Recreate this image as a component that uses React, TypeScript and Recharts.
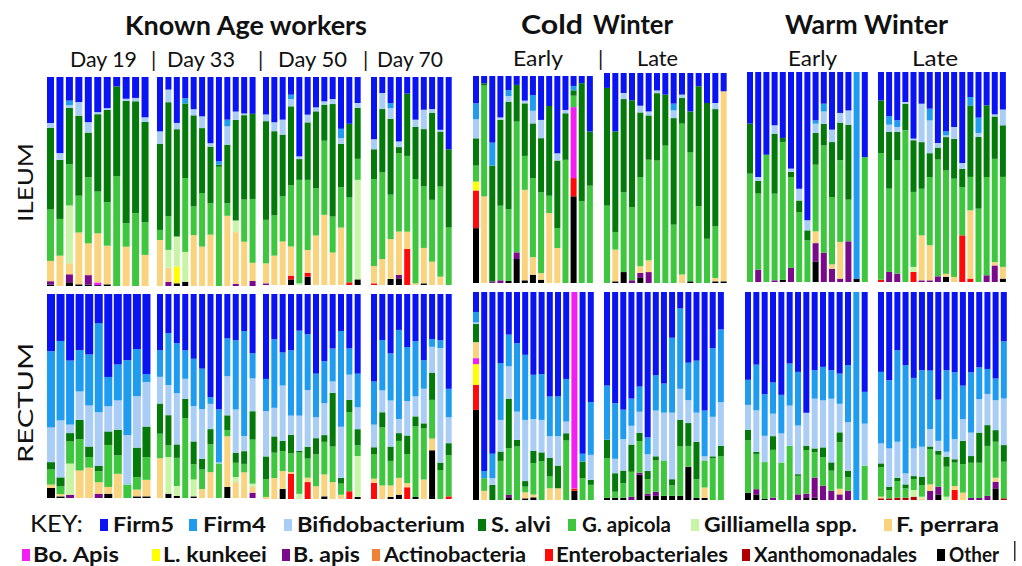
import { BarChart, Bar, XAxis, YAxis } from "recharts";

// taxa, top of the stack first (legend order)
const TAXA = [
  { key: "f5", name: "Firm5", color: "#0a14f2" },
  { key: "f4", name: "Firm4", color: "#1f9cf0" },
  { key: "bi", name: "Bifidobacterium", color: "#a9cdf5" },
  { key: "sa", name: "S. alvi", color: "#037a0a" },
  { key: "ga", name: "G. apicola", color: "#3fc63f" },
  { key: "gs", name: "Gilliamella spp.", color: "#c8f5a5" },
  { key: "fp", name: "F. perrara", color: "#f9d37e" },
  { key: "bo", name: "Bo. Apis", color: "#f21ef2" },
  { key: "lk", name: "L. kunkeei", color: "#ffff00" },
  { key: "ba", name: "B. apis", color: "#7a0a8a" },
  { key: "ac", name: "Actinobacteria", color: "#ee8236" },
  { key: "en", name: "Enterobacteriales", color: "#ff0a0a" },
  { key: "xa", name: "Xanthomonadales", color: "#b00000" },
  { key: "ot", name: "Other", color: "#000000" },
];

type Row = Partial<Record<string, number>>;

// ---- ILEUM (% of reads per bee) ----
const ileumDay19: Row[] = [
  { f5: 22, bi: 2.4, sa: 39, ga: 24.6, fp: 9.7, ba: 1.6, ot: 0.7 },
  { f5: 36.4, bi: 3.2, sa: 28.3, ga: 17.6, fp: 14.5 },
  { f5: 11.3, f4: 2.2, bi: 1.3, sa: 26.8, ga: 19.8, gs: 27.6, fp: 5.3, ba: 3.8, ot: 1.8 },
  { f5: 12, bi: 6.5, sa: 38.3, ga: 17.6, fp: 24.8, ot: 0.8 },
  { f5: 21.6, bi: 5, sa: 21.4, ga: 31.6, fp: 15.2, ba: 4.5, ot: 0.7 },
  { f5: 16.8, bi: 1, sa: 37, ga: 20, fp: 23.5, bo: 1.3, ot: 0.4 },
  { f5: 14.9, bi: 0.8, sa: 44.2, ga: 20.8, fp: 18.5, ot: 0.8 },
  { f5: 4.5, sa: 43, ga: 52.4 },
  { f5: 10.4, bi: 1, sa: 58.6, ga: 11.2, fp: 18.8 },
  { f5: 10, bi: 1.6, sa: 53.5, ga: 34.8 },
  { f5: 19.3, bi: 2.2, sa: 48, ga: 15.7, fp: 14.9 },
];
const ileumDay33: Row[] = [
  { f5: 26, bi: 5.9, sa: 41.2, ga: 4.8, fp: 22 },
  { f5: 6, bi: 6, sa: 54.3, ga: 16, gs: 8.5, fp: 6.7, ba: 2 },
  { f5: 22, bi: 3, sa: 51.4, gs: 14.4, lk: 8, ot: 1.3 },
  { f5: 10, f4: 2.4, sa: 35, ga: 34.7, gs: 14, ot: 2 },
  { f5: 15.7, bi: 3, sa: 44.4, ga: 14, fp: 24.8 },
  { f5: 18.8, bi: 5.6, sa: 31, ga: 25.6, fp: 18.8 },
  { f5: 31.6, bi: 1.6, sa: 27, ga: 15, fp: 24.5 },
  { f5: 40.3, f4: 1.6, sa: 1, ga: 57 },
  { f5: 20.4, f4: 3.2, bi: 8.8, sa: 28, ga: 6, fp: 33.6 },
  { f5: 16.5, bi: 4, sa: 48, gs: 5.6, fp: 24.7, ba: 1 },
  { f5: 17.3, bi: 0.8, sa: 40, ga: 20, fp: 21 },
  { f5: 17.3, sa: 40, ga: 30, fp: 8.5, ba: 2.4 },
];
const ileumDay50: Row[] = [
  { f5: 18, bi: 3.2, sa: 47.4, ga: 20.9, fp: 9.6, ba: 0.8 },
  { f5: 21.7, bi: 4.3, sa: 40.4, ga: 19.3, fp: 14.1 },
  { f5: 20.5, bi: 7.2, sa: 29.7, ga: 21.7, fp: 20.9 },
  { f5: 8.5, f4: 2.1, bi: 3.5, sa: 38, ga: 29.4, fp: 14, en: 1.8, ot: 2.7 },
  { f5: 38.2, bi: 1.3, sa: 10, ga: 49.8, gs: 0.8 },
  { f5: 18.1, bi: 3.7, sa: 27.6, ga: 33.7, fp: 10.9, en: 1.9, ot: 4 },
  { f5: 14.6, bi: 1.9, sa: 36.9, ga: 22.8, fp: 23.8 },
  { f5: 11.7, bi: 1.6, sa: 17.3, ga: 35.6, fp: 33.7 },
  { f5: 10.6, bi: 2.4, sa: 54.1, ga: 17.3, fp: 15.6 },
  { f5: 24.9, f4: 4.5, bi: 2.7, sa: 20.9, ga: 19.4, fp: 27.6 },
  { f5: 22.5, sa: 35.5, ga: 40.8, en: 1.3 },
  { f5: 12.5, bi: 2.4, sa: 24.4, ga: 10.1, gs: 47.8, ot: 2.7 },
];
const ileumDay70: Row[] = [
  { f5: 29.9, bi: 4.8, sa: 14.4, ga: 41.7, fp: 8.3, en: 0.8 },
  { f5: 7.7, bi: 7.7, sa: 30.5, ga: 41.6, fp: 12.5 },
  { f5: 12.5, f4: 2.4, bi: 5.1, sa: 36.4, ga: 21.3, fp: 19.1, ot: 2.9 },
  { f5: 31, bi: 2.7, sa: 2.9, ga: 37.7, fp: 20.9, ba: 1.6, ot: 3.2 },
  { f5: 8, sa: 29.9, ga: 36.4, fp: 8.3, en: 17.3 },
  { f5: 20.5, bi: 3.5, sa: 25, ga: 50.1, fp: 0.8 },
  { f5: 15.7, bi: 9.3, sa: 27.3, ga: 29.7, fp: 17, ot: 0.8 },
  { f5: 15.4, bi: 1.9, sa: 41.7, ga: 29.7, fp: 11.2 },
  { f5: 25.4, bi: 0.8, sa: 26.5, ga: 43.3, fp: 4 },
  { f5: 34.7, sa: 37.6, ga: 27.6 },
];
const ileumColdEarly: Row[] = [
  { f5: 13.2, f4: 7.7, bi: 9.2, sa: 13.2, ga: 7.7, lk: 4.3, en: 18.2, ot: 26.5 },
  { f5: 3.5, sa: 1.1, ga: 53.5, fp: 41.8 },
  { f5: 32.2, f4: 11.1, sa: 55.9, ba: 0.5, ot: 0.3 },
  { f5: 20, bi: 1.1, sa: 41.5, ga: 36, ba: 1.3 },
  { f5: 6.8, f4: 2.9, bi: 2.7, sa: 51.9, ga: 34.7, ot: 1 },
  { f5: 4.3, sa: 17.7, ga: 63.2, ba: 3.2, ot: 11.6 },
  { f5: 11.9, bi: 1.3, sa: 25.4, ga: 16.4, fp: 43.7, ot: 1.3 },
  { f5: 9.2, f4: 7.6, bi: 6.1, sa: 26.5, ga: 38.1, fp: 8.5, ot: 4 },
  { f5: 21.2, bi: 8.8, sa: 26.2, ga: 38.9, fp: 3.2, ot: 1.6 },
  { f5: 14.5, sa: 43.4, ga: 8.4, fp: 33.8 },
  { f5: 37.3, bi: 3.5, sa: 32.6, ga: 9.6, fp: 16.9 },
  { f5: 16.4, bi: 1.6, sa: 22.5, ga: 59.5 },
  { f5: 4.8, f4: 2.1, sa: 2.6, ga: 5.5, bo: 34.2, en: 8.8, ot: 41.8 },
  { f5: 3.5, sa: 57, ga: 39.5 },
  { f5: 26.8, sa: 26.2, ga: 47 },
];
const ileumColdLate: Row[] = [
  { f5: 7.1, sa: 56, ga: 36.8 },
  { f5: 27.8, sa: 47.9, ga: 8.4, fp: 15.1, ot: 0.8 },
  { f5: 9.5, bi: 2.9, sa: 44.4, ga: 37.9, ot: 5.2 },
  { f5: 13, sa: 50.8, ga: 34.9, ba: 1.3 },
  { f5: 15.6, bi: 3.2, sa: 30.8, ga: 42.5, fp: 3.2, ba: 2.4, ot: 2.4 },
  { f5: 18.3, bi: 1.9, sa: 21.1, ga: 47.9, fp: 5.6, ba: 5.2 },
  { f5: 8.3, bi: 1.3, sa: 32.1, ga: 58.3 },
  { f5: 10.3, sa: 24.3, ga: 65.4 },
  { f5: 14.6, f4: 3.2, bi: 3.7, sa: 50.8, ga: 27.8 },
  { f5: 10.3, bi: 1.6, sa: 12.2, ga: 71.9, fp: 4 },
  { f5: 18.3, sa: 19.4, ga: 61.6, ot: 0.8 },
  { f5: 6.3, sa: 57.1, ga: 36.5 },
  { f5: 14.3, sa: 64.6, ga: 21.1 },
  { f5: 14.3, bi: 2.9, sa: 55.9, ga: 24.6, fp: 1.6, ot: 0.8 },
  { f5: 8.7, fp: 90.5, ot: 0.8 },
];
const ileumWarmEarly: Row[] = [
  { f5: 24.6, sa: 23.8, ga: 51.6 },
  { f5: 50, bi: 1.9, sa: 6, ga: 36.2, ba: 5.9 },
  { f5: 39.4, ga: 60.6 },
  { f5: 25.4, bi: 4, sa: 28.6, ga: 41.3, ba: 0.8 },
  { f5: 31.4, sa: 1.9, ga: 65.6, ot: 1.1 },
  { f5: 46, bi: 1.6, sa: 2.4, ga: 43.3, ba: 6.7 },
  { f5: 55.6, bi: 5.6, sa: 5.6, ga: 33.2 },
  { f5: 70.6, bi: 4.8, sa: 4.8, ga: 19.8 },
  { f5: 23, f4: 1.6, bi: 4.4, sa: 15.1, ga: 31.7, fp: 5.6, ba: 8.7, ot: 9.8 },
  { f5: 15.1, f4: 3.7, bi: 5.9, sa: 10.3, ga: 51.1, ba: 13.9 },
  { f5: 27.5, bi: 5.9, sa: 26.2, ga: 32.1, fp: 2.1, ba: 6.3 },
  { f5: 19.5, bi: 4.6, sa: 17.9, ga: 38.9, fp: 17.5, ba: 1.6 },
  { f5: 18.3, bi: 6.8, sa: 35.7, ga: 19.8, ba: 19.4 },
  { f4: 98.4, ot: 1.6 },
  { f5: 40.5, ga: 59.5 },
];
const ileumWarmLate: Row[] = [
  { f5: 13.5, sa: 25.1, ga: 60.3, en: 1.1 },
  { f5: 21.1, f4: 4, bi: 3.5, sa: 27, ga: 39.7, ba: 4.8 },
  { f5: 23, f4: 3.2, bi: 2.4, sa: 13.5, ga: 54, ba: 4 },
  { f5: 14.3, bi: 0.8, sa: 12.7, ga: 72.2 },
  { f5: 31.7, bi: 0.8, sa: 24.6, ga: 35.7, gs: 2.4, en: 4.8 },
  { f5: 15.1, bi: 18.3, sa: 22.2, ga: 22.2, fp: 21.4, ba: 0.8 },
  { f5: 17.5, f4: 5.6, bi: 15.6, sa: 11.4, ga: 32.5, fp: 16.7, ba: 0.8 },
  { f5: 33.8, bi: 2.2, sa: 5.7, ga: 55.6, ba: 2.7 },
  { f5: 28.3, f4: 1.9, bi: 0.8, sa: 15.9, ga: 49.2, fp: 1.4, ot: 2.5 },
  { f5: 26.2, bi: 5.6, sa: 19, ga: 46.8, fp: 2.4 },
  { f5: 43.3, bi: 2.7, sa: 8.7, ga: 23, en: 22.2 },
  { f5: 11.9, f4: 4, sa: 34, ga: 15.9, fp: 32.5, en: 1.6 },
  { f5: 21.7, f4: 7.3, bi: 1.9, sa: 34.1, ga: 34.9 },
  { f5: 15.9, sa: 34.1, ga: 46.8, ba: 3.2 },
  { f5: 20.2, bi: 1, sa: 20.2, ga: 49.2, fp: 1.6, ba: 7.9 },
  { f5: 17.9, bi: 7.5, sa: 24.6, ga: 42.9, fp: 5.6, ot: 1.6 },
];

// ---- RECTUM ----
const rectumDay19: Row[] = [
  { f5: 27.9, f4: 37.2, bi: 16.9, sa: 3.6, ga: 7.4, fp: 1.6, ot: 4.9 },
  { f5: 23, f4: 38.9, bi: 27.9, sa: 4.4, ga: 3.8, fp: 1.1, ot: 0.8 },
  { f5: 32.3, f4: 31.1, bi: 4.1, sa: 4.1, ga: 10.7, gs: 15.1, ba: 1.6 },
  { f5: 27.3, f4: 20.2, bi: 13.8, sa: 9.5, ga: 15.2, fp: 13.4 },
  { f5: 29.5, f4: 24.9, bi: 20, sa: 5.1, ga: 5.2, fp: 14.8 },
  { f5: 14.3, f4: 43.4, bi: 26.2, sa: 2.5, ga: 5.4, fp: 5.6, ba: 2.1 },
  { f5: 40.5, f4: 14.3, bi: 12.3, sa: 6.6, ga: 20.5, fp: 3.3, ot: 2.1 },
  { f5: 34.4, f4: 17.5, bi: 14.3, sa: 12.5, ga: 9, fp: 11.8 },
  { f5: 32.3, f4: 36.6, bi: 24.1, ga: 6.6 },
  { f5: 26.9, f4: 23, bi: 25.1, sa: 14.4, ga: 6.1, fp: 3.3, ot: 0.8 },
  { f5: 38.8, f4: 3.8, bi: 21.6, sa: 14.8, ga: 11, fp: 8, ot: 0.8 },
];
const rectumDay33: Row[] = [
  { f5: 27.5, f4: 13.1, bi: 13.1, sa: 14.8, ga: 12, fp: 19.5 },
  { f5: 19.2, f4: 25.4, bi: 14.8, sa: 14.8, ga: 5.7, gs: 18, ot: 2.1 },
  { f5: 24.1, f4: 24.6, bi: 25.1, sa: 6.6, ga: 13.8, gs: 4.9, ot: 1 },
  { f5: 27.5, f4: 13.9, bi: 9.8, sa: 9.5, ga: 38.9 },
  { f5: 31.5, f4: 23, bi: 17.2, sa: 11.1, ga: 7.4, gs: 8.2, ot: 0.8 },
  { f5: 36.4, f4: 19.7, bi: 24.3, sa: 5.2, ga: 9.5, fp: 4.4 },
  { f5: 50.3, f4: 3.3, bi: 12.3, sa: 7.4, ga: 13.6, fp: 12.6 },
  { f5: 56.4, f4: 25.9, bi: 0.5, ga: 16.9 },
  { f5: 21.6, f4: 18.4, bi: 19, sa: 7.2, ga: 3, fp: 24.6, ot: 5.4 },
  { f5: 22.5, f4: 33.6, bi: 21, sa: 4.9, ga: 6.9, gs: 2.5, fp: 7.7 },
  { f5: 18, f4: 51.1, bi: 7.4, sa: 6.2, ga: 4.1, fp: 12.5 },
  { f5: 29, f4: 12.3, bi: 16.1, sa: 13.9, ga: 21.6, gs: 1.6, fp: 2.8, ba: 2.6 },
];
const rectumDay50: Row[] = [
  { f5: 41.3, f4: 15.6, bi: 22.1, sa: 11, ga: 8.7, fp: 1 },
  { f5: 22, f4: 33.3, bi: 13.9, sa: 7.9, ga: 12.3, fp: 10.2 },
  { f5: 28.5, f4: 16.1, bi: 27, sa: 4.9, ga: 9.8, fp: 8.7, ot: 4.9 },
  { f5: 27.3, f4: 31.6, bi: 9.3, sa: 9, ga: 9, fp: 0.8, en: 12.3 },
  { f5: 17.9, f4: 41.5, bi: 17.2, sa: 0.8, ga: 20.2, gs: 2.5 },
  { f5: 19.5, f4: 27, bi: 27.5, sa: 5.7, ga: 9.3, fp: 2.1, en: 8.2 },
  { f5: 38.9, f4: 21.3, bi: 10.2, sa: 7.9, ga: 15.6, fp: 6.2 },
  { f5: 32.8, f4: 20.5, bi: 15.6, sa: 3.3, ga: 15.9, fp: 10.7, ot: 1.3 },
  { f5: 26.6, f4: 16.1, bi: 5.6, sa: 26.2, ga: 17.4, fp: 8.2 },
  { f5: 18, f4: 46.7, bi: 24.9, sa: 2.8, ga: 5.4, fp: 2.1 },
  { f5: 26.6, f4: 12.8, bi: 12.3, sa: 6.1, ga: 38.5, en: 3.8 },
  { f5: 38.9, f4: 16.4, bi: 10.7, sa: 7.9, ga: 5.2, gs: 20, ot: 1 },
];
const rectumDay70: Row[] = [
  { f5: 42.6, f4: 21, bi: 11, sa: 3.3, ga: 12, fp: 2, en: 7.9 },
  { f5: 22.5, f4: 24.6, bi: 10.7, sa: 7.4, ga: 28.4, fp: 6.6 },
  { f5: 29, f4: 23, bi: 22.5, sa: 7, ga: 12, fp: 5.6, ot: 1 },
  { f5: 17.5, f4: 43.4, bi: 6.9, sa: 3.8, ga: 18, fp: 8.2, ot: 2.1 },
  { f5: 25.7, f4: 26.2, bi: 16.7, sa: 9, ga: 14.1, fp: 2, en: 5.7 },
  { f5: 23, f4: 26.9, bi: 9.8, sa: 4.9, ga: 34.4, ot: 1 },
  { f5: 32.3, f4: 13.9, bi: 16.9, sa: 2.5, ga: 24.9, fp: 9.5 },
  { f5: 22, f4: 3.8, bi: 12.6, sa: 13.3, ga: 18.9, fp: 5.7, ot: 23.8 },
  { f5: 22.5, f4: 3.8, bi: 55.7, sa: 3.6, ga: 14.1 },
  { f5: 46.2, f4: 13.9, bi: 12.6, sa: 5.9, ga: 20, en: 1.3 },
];
const rectumColdEarly: Row[] = [
  { f5: 9.6, f4: 5, bi: 0.8, sa: 8.7, fp: 7.7, bo: 2.9, lk: 10, en: 12, ot: 43.3 },
  { f5: 86, f4: 3.5, ga: 6.1, fp: 4.4 },
  { f5: 77.8, f4: 11.7, bi: 3.2, sa: 7.3 },
  { f5: 34.2, f4: 27.3, bi: 15.2, sa: 4.5, ga: 18.8 },
  { f5: 20.5, f4: 15.2, bi: 15.6, sa: 23.8, ga: 22.5, ba: 1.1, ot: 1.3 },
  { f5: 24.6, f4: 32.9, bi: 13.6, sa: 3.2, ga: 25.7 },
  { f5: 30.2, f4: 31.3, bi: 29.4, sa: 2.7, ga: 2.7, fp: 2.9, ot: 0.8 },
  { f5: 39.8, f4: 21.3, bi: 15.2, sa: 5.9, ga: 15.2, fp: 1.3, ot: 1.3 },
  { f5: 39.5, f4: 22, bi: 15.6, sa: 4.2, ga: 18.7 },
  { f5: 49.8, f4: 18.9, bi: 10.4, sa: 8.8, ga: 5.6, fp: 5.6 },
  { f5: 49.8, f4: 18.9, bi: 14.1, sa: 10.8, fp: 5.6 },
  { f5: 41.8, f4: 20.5, bi: 5.6, sa: 3.5, ga: 28.6 },
  { bo: 94.5, en: 1, ot: 4.5 },
  { f5: 77.8, f4: 3.7, sa: 8, ga: 10.5 },
  { f5: 52.9, f4: 25.4, bi: 12, sa: 2.4, ga: 7.3 },
];
const rectumColdLate: Row[] = [
  { f5: 45, f4: 26, sa: 9, ga: 19, ot: 1 },
  { f5: 54, f4: 27, bi: 7, sa: 9, ga: 3, ot: 1 },
  { f5: 56, f4: 14, bi: 15, sa: 6, ga: 7, ot: 1 },
  { f5: 51, f4: 13, bi: 9, sa: 13, ga: 12, ba: 1.5 },
  { f5: 45, f4: 12, bi: 10, sa: 4, ga: 15, ba: 1, ot: 12 },
  { f5: 70, f4: 8, bi: 8, sa: 4, ga: 7, ba: 1, ot: 2 },
  { f5: 40, f4: 17, bi: 22, sa: 2, ga: 15, ba: 2, ot: 2 },
  { f5: 44, f4: 14, bi: 23, ga: 17, ot: 2 },
  { f5: 22, f4: 36, bi: 32, sa: 3, ga: 5, ot: 2 },
  { f5: 8, f4: 39, bi: 15, sa: 13, ga: 24, ot: 2 },
  { f5: 34, f4: 18, bi: 11, sa: 11, ga: 10, ot: 16 },
  { f5: 33, f4: 25, bi: 14, sa: 18, ga: 9, ot: 1 },
  { f5: 57, f4: 22, bi: 2, ga: 13, fp: 5, ot: 1 },
  { f5: 27, f4: 33, bi: 19, sa: 1, ga: 20 },
  { f5: 18, f4: 35, bi: 21, sa: 5, ga: 21 },
];
const rectumWarmEarly: Row[] = [
  { f5: 42, f4: 12, bi: 12, sa: 5, ga: 25, ot: 3.5 },
  { f5: 35, f4: 22, bi: 20, sa: 1, ga: 17, ba: 2.5, ot: 2.7 },
  { f5: 49, f4: 20, bi: 12.6, ga: 17.7, ot: 0.5 },
  { f5: 43.5, f4: 15, bi: 10.8, sa: 6.6, ga: 23, ba: 1.1 },
  { f5: 49.4, f4: 18.5, bi: 14, ga: 18 },
  { f5: 34.4, f4: 20.2, bi: 19.4, ga: 26 },
  { f5: 38.4, f4: 25.8, bi: 23.4, sa: 0.8, ga: 8.9, ba: 2.7 },
  { f5: 58, bi: 16, sa: 2, ga: 21, ba: 2, ot: 1 },
  { f5: 37.6, f4: 13.7, bi: 23.9, sa: 1.9, ga: 12.1, ba: 9.7, ot: 1.1 },
  { f5: 36, f4: 16.1, bi: 22.6, sa: 4.8, ga: 13.7, ba: 6.8 },
  { f5: 37.6, f4: 13.7, bi: 30.6, sa: 4, ga: 9.7, ba: 4.4 },
  { f5: 39.2, f4: 14.5, bi: 13.7, sa: 4.8, ga: 22.3, fp: 2.7, ba: 2.7 },
  { f5: 35.2, f4: 27.4, bi: 23.4, sa: 3.2, ga: 6.5, ba: 4.4 },
  { f4: 100 },
  { f5: 48, f4: 15.3, bi: 20.2, ga: 16.5 },
];
const rectumWarmLate: Row[] = [
  { f5: 38.4, f4: 34.4, bi: 9.6, sa: 1.9, ga: 14.1, fp: 0.8, xa: 0.8 },
  { f5: 42.4, f4: 32.8, bi: 18.4, sa: 1.6, ga: 4, xa: 0.8 },
  { f5: 28, f4: 44, bi: 17.3, sa: 1.6, ga: 8, xa: 1.1 },
  { f5: 35.2, f4: 52, bi: 5.3, sa: 1.9, ga: 4.5, xa: 1.1 },
  { f5: 41.3, f4: 33.9, bi: 13.3, sa: 1.4, ga: 5.3, gs: 3.2, xa: 1.6 },
  { f5: 37.6, f4: 36.8, bi: 14.4, sa: 4, ga: 5.6, gs: 0.8, fp: 0.8 },
  { f5: 37.6, f4: 28, bi: 8.3, sa: 1.3, ga: 16.8, fp: 3.2, ba: 4.3 },
  { f5: 51.5, f4: 19.7, bi: 4.8, sa: 1.9, ga: 15.2, ba: 3.7, ot: 2.7 },
  { f5: 37.6, f4: 39.2, bi: 2.4, sa: 4.8, ga: 14.4, gs: 1.6 },
  { f5: 38.4, f4: 32, bi: 9.6, sa: 1.6, ga: 11.2, fp: 1.9, en: 4.8 },
  { f5: 44.8, f4: 16, bi: 10.4, sa: 11.2, ga: 13.6, fp: 3.5 },
  { f5: 38.4, f4: 28.8, bi: 11.2, sa: 3.2, ga: 16.8, ba: 1 },
  { f5: 36, f4: 15.2, bi: 16, sa: 14.4, ga: 16.8, ba: 1 },
  { f5: 37, f4: 12, bi: 15, sa: 10, ga: 24, ba: 2 },
  { f5: 41.6, f4: 10.4, bi: 14.4, sa: 5.6, ga: 17.3, fp: 1.9, ba: 3.2, ot: 5.6 },
  { f5: 23.7, f4: 27.5, bi: 22.4, sa: 8, ga: 17.6, xa: 0.8 },
];

// panel placement on the page
const PANELS = [
  { data: ileumDay19, x: 46, y: 77, w: 104, h: 209 },
  { data: ileumDay33, x: 156, y: 77, w: 101, h: 209 },
  { data: ileumDay50, x: 262, y: 77, w: 100, h: 208 },
  { data: ileumDay70, x: 370, y: 77, w: 83, h: 208 },
  { data: ileumColdEarly, x: 472, y: 76, w: 122, h: 207 },
  { data: ileumColdLate, x: 603, y: 73, w: 125, h: 210 },
  { data: ileumWarmEarly, x: 746, y: 72, w: 123, h: 210 },
  { data: ileumWarmLate, x: 877, y: 72, w: 130, h: 210 },
  { data: rectumDay19, x: 46, y: 294, w: 105, h: 204 },
  { data: rectumDay33, x: 156, y: 294, w: 101, h: 204 },
  { data: rectumDay50, x: 262, y: 294, w: 100, h: 205 },
  { data: rectumDay70, x: 370, y: 294, w: 83, h: 205 },
  { data: rectumColdEarly, x: 472, y: 292, w: 123, h: 208 },
  { data: rectumColdLate, x: 603, y: 292, w: 122, h: 208 },
  { data: rectumWarmEarly, x: 744, y: 292, w: 125, h: 208 },
  { data: rectumWarmLate, x: 877, y: 292, w: 131, h: 208 },
];

// legend layout: [square x, text x, text length] per taxon, two rows
const LEGEND_POS = [
  [100, 113, 61], [189, 203, 63], [284, 297, 168], [478, 491, 60],
  [568, 582, 89], [691, 704, 153], [884, 896, 103],
  [22, 33, 86], [152, 163, 104], [282, 293, 67], [372, 384, 142],
  [545, 556, 172], [742, 754, 163], [937, 949, 50],
];

const STACK = [...TAXA].reverse();

function fillRows(rows: Row[]) {
  return rows.map((r, i) => {
    const out: Record<string, number | string> = { id: String(i) };
    TAXA.forEach((t) => (out[t.key] = r[t.key] ?? 0));
    return out;
  });
}

function Panel({ data, x, y, w, h }: { data: Row[]; x: number; y: number; w: number; h: number }) {
  return (
    <div style={{ position: "absolute", left: x, top: y }}>
      <BarChart
        width={w}
        height={h}
        data={fillRows(data)}
        stackOffset="expand"
        barCategoryGap={1}
        margin={{ top: 0, right: 0, bottom: 0, left: 0 }}
      >
        <XAxis dataKey="id" hide />
        <YAxis hide domain={[0, 1]} />
        {STACK.map((t) => (
          <Bar key={t.key} dataKey={t.key} stackId="s" fill={t.color} isAnimationActive={false} />
        ))}
      </BarChart>
    </div>
  );
}

const INK = "#111";

export default function App() {
  return (
    <div
      style={{
        position: "absolute",
        left: 0,
        top: 0,
        width: 1022,
        height: 566,
        background: "#fff",
        overflow: "hidden",
      }}
    >
      {PANELS.map((p, i) => (
        <Panel key={i} {...p} />
      ))}
      <svg
        width={1022}
        height={566}
        style={{ position: "absolute", left: 0, top: 0, pointerEvents: "none" }}
        fontFamily="Lato, sans-serif"
        fill={INK}
      >
        <g fontWeight={700} fontSize={26}>
          <text x={125} y={35} textLength={242} lengthAdjust="spacingAndGlyphs">Known Age workers</text>
          <text x={521} y={34} textLength={62} lengthAdjust="spacingAndGlyphs">Cold</text>
          <text x={593} y={34} textLength={80} lengthAdjust="spacingAndGlyphs">Winter</text>
          <text x={785} y={34} textLength={163} lengthAdjust="spacingAndGlyphs">Warm Winter</text>
        </g>
        <g fontSize={21}>
          <text x={70} y={67} textLength={67} lengthAdjust="spacingAndGlyphs">Day 19</text>
          <text x={151} y={67}>|</text>
          <text x={167} y={67} textLength={68} lengthAdjust="spacingAndGlyphs">Day 33</text>
          <text x={258} y={67}>|</text>
          <text x={278} y={67} textLength={69} lengthAdjust="spacingAndGlyphs">Day 50</text>
          <text x={363} y={67}>|</text>
          <text x={377} y={67} textLength={66} lengthAdjust="spacingAndGlyphs">Day 70</text>
          <text x={513} y={66} textLength={50} lengthAdjust="spacingAndGlyphs">Early</text>
          <text x={598} y={66}>|</text>
          <text x={637} y={66} textLength={41} lengthAdjust="spacingAndGlyphs">Late</text>
          <text x={788} y={66} textLength={49} lengthAdjust="spacingAndGlyphs">Early</text>
          <text x={912} y={66} textLength={46} lengthAdjust="spacingAndGlyphs">Late</text>
        </g>
        <g fontSize={21}>
          <text transform="translate(33, 222) rotate(-90)" textLength={79} lengthAdjust="spacingAndGlyphs">ILEUM</text>
          <text transform="translate(33, 463) rotate(-90)" textLength={120} lengthAdjust="spacingAndGlyphs">RECTUM</text>
        </g>
        <text x={30} y={532} fontSize={24} textLength={53} lengthAdjust="spacingAndGlyphs">KEY:</text>
        <g fontWeight={700} fontSize={21}>
          {TAXA.map((t, i) => {
            const [sx, tx, len] = LEGEND_POS[i];
            const base = i < 7 ? 532 : 562;
            return (
              <g key={t.key}>
                <rect x={sx} y={base - 13} width={8} height={12} fill={t.color} />
                <text x={tx} y={base} textLength={len} lengthAdjust="spacingAndGlyphs">{t.name}</text>
              </g>
            );
          })}
        </g>
        <rect x={1014} y={541} width={1.5} height={20} fill="#333" />
      </svg>
    </div>
  );
}
